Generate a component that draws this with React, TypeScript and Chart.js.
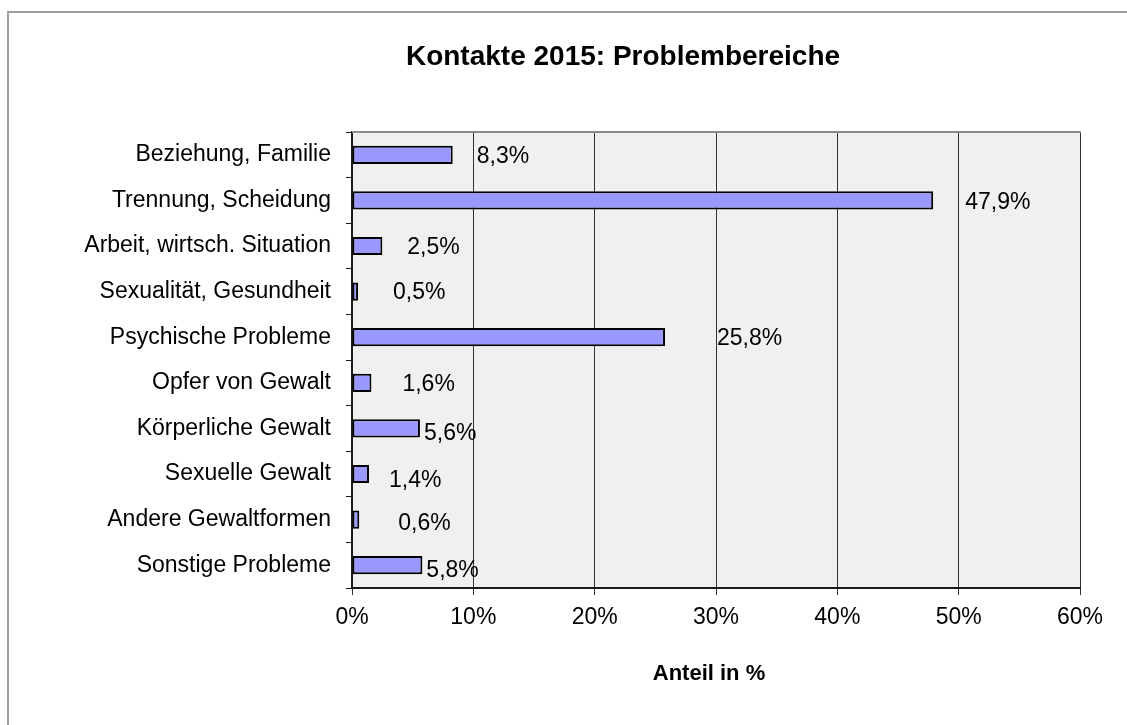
import React, { useEffect, useRef } from "react";
import { Chart, registerables } from "chart.js";

Chart.register(...registerables);

const categories = [
  "Beziehung, Familie",
  "Trennung, Scheidung",
  "Arbeit, wirtsch. Situation",
  "Sexualität, Gesundheit",
  "Psychische Probleme",
  "Opfer von Gewalt",
  "Körperliche Gewalt",
  "Sexuelle Gewalt",
  "Andere Gewaltformen",
  "Sonstige Probleme",
];
const shares = [8.3, 47.9, 2.5, 0.5, 25.8, 1.6, 5.6, 1.4, 0.6, 5.8];
const xTickValues = [0, 10, 20, 30, 40, 50, 60];
const chartTitle = "Kontakte 2015: Problembereiche";
const axisTitle = "Anteil in %";

// style: nudges (px) of each value label from the bar end, like the original
const labelDx = [24, 32, 25, 35, 52, 31, 4, 20, 39, 4];
const labelDy = [1.5, 2.5, 1.5, 1.5, 1, 1.5, 5, 7, 4, 5];

const FONT = '"Liberation Sans", Arial, Helvetica, sans-serif';

const fmt = (v: number) => v.toFixed(1).replace(".", ",") + "%";

const decor = {
  id: "decor",
  beforeDraw(chart: any) {
    const { ctx, chartArea: a, width, height } = chart;
    ctx.save();
    ctx.fillStyle = "#ffffff";
    ctx.fillRect(0, 0, width, height);
    // outer frame (left + top, runs off the page)
    ctx.strokeStyle = "#a0a0a0";
    ctx.lineWidth = 2;
    ctx.beginPath();
    ctx.moveTo(8, height + 10);
    ctx.lineTo(8, 12);
    ctx.lineTo(width + 10, 12);
    ctx.stroke();
    // plot background
    ctx.fillStyle = "#F0F0F0";
    ctx.fillRect(a.left, a.top, a.right - a.left, a.bottom - a.top);
    ctx.restore();
  },
  afterDatasetsDraw(chart: any) {
    const { ctx } = chart;
    const meta = chart.getDatasetMeta(0);
    ctx.save();
    ctx.font = `23px ${FONT}`;
    ctx.fillStyle = "#000";
    ctx.textAlign = "left";
    ctx.textBaseline = "middle";
    meta.data.forEach((bar: any, i: number) => {
      ctx.fillText(fmt(shares[i]), bar.x + labelDx[i], bar.y + labelDy[i]);
    });
    ctx.restore();
  },
  afterDraw(chart: any) {
    const { ctx, chartArea: a } = chart;
    ctx.save();
    // top border of plot
    ctx.strokeStyle = "#8c8c8c";
    ctx.lineWidth = 2;
    ctx.beginPath();
    ctx.moveTo(a.left, a.top);
    ctx.lineTo(a.right + 1, a.top);
    ctx.stroke();
    // chart title
    ctx.fillStyle = "#000";
    ctx.textAlign = "center";
    ctx.textBaseline = "alphabetic";
    ctx.font = `bold 28px ${FONT}`;
    ctx.fillText(chartTitle, 623, 65);
    // axis title
    ctx.font = `bold 22px ${FONT}`;
    ctx.fillText(axisTitle, (a.left + a.right) / 2 - 7, 680);
    ctx.restore();
  },
};

export default function App() {
  const ref = useRef<HTMLCanvasElement | null>(null);

  useEffect(() => {
    if (!ref.current) return;
    const chart = new Chart(ref.current, {
      type: "bar",
      data: {
        labels: categories,
        datasets: [
          {
            data: shares,
            backgroundColor: "#9999FF",
            borderColor: "#000000",
            borderWidth: 2,
            borderSkipped: false,
            barPercentage: 0.4,
            categoryPercentage: 1,
          },
        ],
      },
      options: {
        indexAxis: "y",
        responsive: false,
        animation: false,
        layout: { padding: { top: 132, left: 0, right: 47, bottom: 0 } },
        plugins: {
          legend: { display: false },
          tooltip: { enabled: false },
          title: { display: false },
        },
        scales: {
          x: {
            type: "linear",
            position: "bottom",
            min: 0,
            max: 60,
            afterBuildTicks: (s: any) => {
              s.ticks = xTickValues.map((v) => ({ value: v }));
            },
            afterFit: (s: any) => {
              s.height = 137;
            },
            ticks: {
              callback: (v: any) => v + "%",
              font: { family: FONT, size: 23 },
              color: "#000",
              padding: 9,
              maxRotation: 0,
            },
            grid: {
              color: "#333333",
              lineWidth: 1,
              tickLength: 7,
              tickColor: "#333333",
            },
            border: { color: "#1a1a1a", width: 2 },
          },
          y: {
            type: "category",
            afterFit: (s: any) => {
              s.width = 352;
            },
            ticks: {
              font: { family: FONT, size: 23 },
              color: "#000",
              padding: 15,
            },
            grid: {
              offset: true,
              drawOnChartArea: false,
              tickLength: 6,
              tickColor: "#1a1a1a",
              color: "#1a1a1a",
            },
            border: { color: "#1a1a1a", width: 2 },
          },
        },
      },
      plugins: [decor],
    } as any);
    return () => chart.destroy();
  }, []);

  return (
    <div style={{ position: "fixed", left: 0, top: 0, width: 1127, height: 725, background: "#fff" }}>
      <canvas ref={ref} width={1127} height={725} style={{ display: "block" }} />
    </div>
  );
}
